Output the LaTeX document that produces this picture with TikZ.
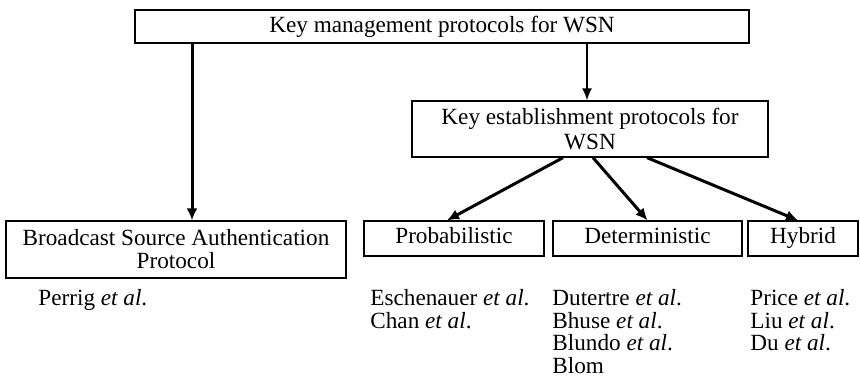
\documentclass[tikz,border=0pt]{standalone}
\usepackage{fontspec}
\setmainfont{Liberation Serif}
\usetikzlibrary{arrows.meta,positioning}

\tikzset{
  box/.style={draw, line width=0.65pt, inner sep=0pt, align=center,
    font=\fontsize{11.6}{12.5}\selectfont},
  leaf/.style={box, minimum height=17.5pt, text height=8pt, text depth=2.6pt},
  refs/.style={anchor=north west, inner sep=0pt, align=left,
    font=\fontsize{11.6}{11.25}\selectfont},
  arr/.style={-{Latex[length=6pt,width=5.5pt]}, line width=1.5pt},
  thinarr/.style={-{Latex[length=6pt,width=5pt]}, line width=0.85pt},
}
\newcommand{\etal}{\textit{et al}.}

\begin{document}
\begin{tikzpicture}[x=0.5pt, y=-0.5pt]
\useasboundingbox (0,0) rectangle (860,385);
% boxes
\node[box, minimum width=307pt, minimum height=16.5pt] (kmp) at (442,26.5) {Key management protocols for WSN};
\node[box, minimum width=178pt, minimum height=28pt] (kep) at (590,129) {Key establishment protocols for\\WSN};
\node[box, minimum width=170pt, minimum height=28.5pt, font=\fontsize{11.6}{11.5}\selectfont] (bsap) at (176,249.5) {Broadcast Source Authentication\\Protocol};
\node[leaf, minimum width=90pt] (prob) at (454,238.5) {Probabilistic};
\node[leaf, minimum width=94.5pt] (det) at (647.5,238.5) {Deterministic};
\node[leaf, minimum width=55pt] (hyb) at (803,238.5) {Hybrid};
% references
\node[refs] (perrig) at (38,289) {Perrig \etal};
\node[refs] (probref) at (370,289) {Eschenauer \etal\\Chan \etal};
\node[refs] (detref) at (552,289) {Dutertre \etal\\Bhuse \etal\\Blundo \etal\\Blom};
\node[refs] (hybref) at (750,289) {Price \etal\\Liu \etal\\Du \etal};
% arrows
\draw[arr] ([xshift=-125pt]kmp.south) -- ([xshift=8pt]bsap.north);
\draw[thinarr] ([xshift=72.5pt]kmp.south) -- ([xshift=-1.5pt]kep.north);
\draw[arr] ([xshift=-13.5pt]kep.south) -- ([xshift=-3.5pt]prob.north);
\draw[arr] ([xshift=1.5pt]kep.south) -- (det.north);
\draw[arr] ([xshift=28.5pt]kep.south) -- ([xshift=-2.5pt]hyb.north);
\end{tikzpicture}
\end{document}
